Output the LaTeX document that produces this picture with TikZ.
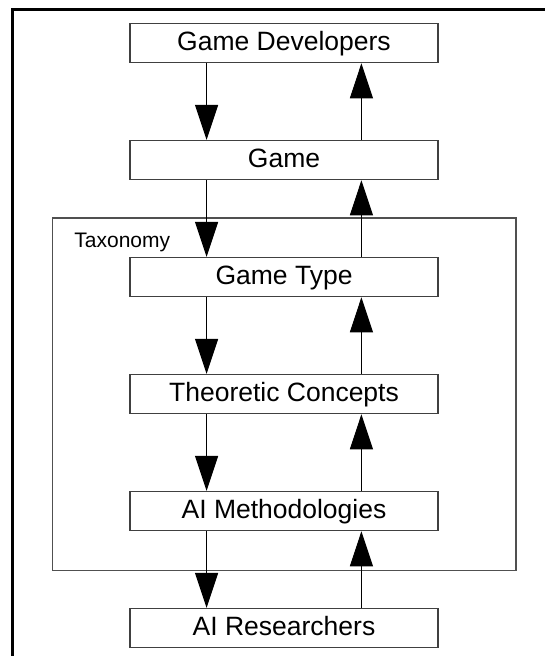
\documentclass[tikz,border=0pt]{standalone}
\usepackage{fontspec}
\setmainfont{Liberation Sans}
\usepackage{xcolor}
\definecolor{boxgray}{RGB}{64, 64, 64}
\definecolor{framegray}{RGB}{80, 80, 80}
\usetikzlibrary{arrows.meta, positioning, fit}

\begin{document}
\begin{tikzpicture}[x=1pt, y=1pt,
    box/.style={draw=boxgray, line width=1.3pt, minimum width=308pt, minimum height=39pt,
        inner sep=0pt, text height=14pt, text depth=0pt, font=\fontsize{26.5}{30}\selectfont},
    flow/.style={line width=1pt, -{Triangle[length=35pt, width=23pt]}}]
    \useasboundingbox (0,0) rectangle (545,-656);
    \draw[line width=2.5pt] (12.7,-656) -- (12.7,-9.5) -- (545,-9.5);
    \node[box] (devs) at (284,-43.1) {Game Developers};
    \node[box, below=76.7pt of devs] (game) {Game};
    \node[box, below=76.7pt of game] (gtype) {Game Type};
    \node[box, below=76.7pt of gtype] (theory) {Theoretic Concepts};
    \node[box, below=76.7pt of theory] (aimeth) {AI Methodologies};
    \node[box, below=76.7pt of aimeth] (airesearch) {AI Researchers};
    \node[draw=framegray, line width=1.3pt, inner xsep=77.2pt, inner ysep=39pt, fit=(gtype)(aimeth)] (tax) {};
    \node[anchor=base west, inner sep=0pt, font=\fontsize{21}{24}\selectfont] (taxlabel) at ([xshift=22.7pt, yshift=-30pt]tax.north west) {Taxonomy};
    \foreach \a/\b in {devs/game, game/gtype, gtype/theory, theory/aimeth, aimeth/airesearch} {
        \draw[flow] ([xshift=-77.4pt]\a.south) -- ([xshift=-77.4pt]\b.north);
        \draw[flow] ([xshift=77.4pt]\b.north) -- ([xshift=77.4pt]\a.south);
    }
\end{tikzpicture}
\end{document}
